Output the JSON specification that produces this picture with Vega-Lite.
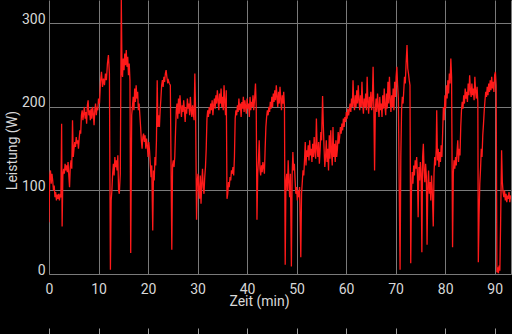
{
"$schema": "https://vega.github.io/schema/vega-lite/v6.json",
"width": 462, "height": 274,
"autosize": {"type": "none"},
"padding": {"left": 49, "top": 0, "right": 1, "bottom": 60},
"background": "#000000",
"config": {"view": {"stroke": null}, "font": "Roboto"},
"data": {"values": [
{"t":0,"w":62},{"t":0.15,"w":118},{"t":0.3,"w":124},{"t":0.45,"w":108},{"t":0.6,"w":120},{"t":0.75,"w":112},{"t":0.9,"w":100},{"t":1.05,"w":106},{"t":1.2,"w":92},{"t":1.35,"w":98},{"t":1.5,"w":88},{"t":1.65,"w":95},{"t":1.8,"w":90},{"t":1.95,"w":96},{"t":2.1,"w":88},{"t":2.25,"w":94},{"t":2.4,"w":92},{"t":2.55,"w":180},{"t":2.65,"w":57},{"t":2.8,"w":118},{"t":2.95,"w":126},{"t":3.1,"w":120},{"t":3.25,"w":132},{"t":3.4,"w":124},{"t":3.55,"w":130},{"t":3.7,"w":122},{"t":3.85,"w":134},{"t":4.0,"w":118},{"t":4.15,"w":104},{"t":4.3,"w":128},{"t":4.45,"w":136},{"t":4.6,"w":126},{"t":4.75,"w":184},{"t":4.9,"w":140},{"t":5.05,"w":150},{"t":5.2,"w":158},{"t":5.35,"w":152},{"t":5.5,"w":164},{"t":5.65,"w":156},{"t":5.8,"w":160},{"t":5.95,"w":150},{"t":6.1,"w":162},{"t":6.25,"w":172},{"t":6.4,"w":168},{"t":6.55,"w":190},{"t":6.7,"w":196},{"t":6.85,"w":184},{"t":7.0,"w":192},{"t":7.15,"w":200},{"t":7.3,"w":186},{"t":7.45,"w":194},{"t":7.6,"w":180},{"t":7.75,"w":202},{"t":7.9,"w":208},{"t":8.05,"w":190},{"t":8.2,"w":196},{"t":8.35,"w":184},{"t":8.5,"w":198},{"t":8.65,"w":186},{"t":8.8,"w":200},{"t":8.95,"w":192},{"t":9.1,"w":178},{"t":9.25,"w":196},{"t":9.4,"w":204},{"t":9.55,"w":190},{"t":9.7,"w":200},{"t":9.85,"w":196},{"t":10.0,"w":210},{"t":10.2,"w":204},{"t":10.4,"w":230},{"t":10.6,"w":242},{"t":10.8,"w":224},{"t":11.0,"w":234},{"t":11.2,"w":226},{"t":11.4,"w":240},{"t":11.6,"w":232},{"t":11.8,"w":252},{"t":12.0,"w":262},{"t":12.2,"w":240},{"t":12.4,"w":5},{"t":12.55,"w":88},{"t":12.7,"w":100},{"t":12.85,"w":120},{"t":13.0,"w":132},{"t":13.15,"w":118},{"t":13.3,"w":140},{"t":13.45,"w":128},{"t":13.6,"w":136},{"t":13.75,"w":124},{"t":13.9,"w":142},{"t":14.05,"w":100},{"t":14.2,"w":96},{"t":14.4,"w":120},{"t":14.6,"w":328},{"t":14.75,"w":240},{"t":14.85,"w":236},{"t":15.0,"w":258},{"t":15.15,"w":244},{"t":15.3,"w":264},{"t":15.45,"w":250},{"t":15.6,"w":268},{"t":15.75,"w":248},{"t":15.9,"w":260},{"t":16.05,"w":238},{"t":16.2,"w":252},{"t":16.35,"w":232},{"t":16.5,"w":25},{"t":16.7,"w":190},{"t":16.85,"w":200},{"t":17.0,"w":212},{"t":17.15,"w":196},{"t":17.3,"w":222},{"t":17.45,"w":206},{"t":17.6,"w":226},{"t":17.75,"w":210},{"t":17.9,"w":218},{"t":18.05,"w":196},{"t":18.2,"w":204},{"t":18.35,"w":190},{"t":18.5,"w":176},{"t":18.65,"w":160},{"t":18.8,"w":150},{"t":18.95,"w":164},{"t":19.1,"w":168},{"t":19.25,"w":158},{"t":19.4,"w":166},{"t":19.55,"w":150},{"t":19.7,"w":162},{"t":19.85,"w":154},{"t":20.0,"w":140},{"t":20.15,"w":158},{"t":20.3,"w":148},{"t":20.45,"w":132},{"t":20.6,"w":116},{"t":20.75,"w":130},{"t":20.95,"w":52},{"t":21.1,"w":124},{"t":21.25,"w":112},{"t":21.4,"w":140},{"t":21.55,"w":130},{"t":21.7,"w":160},{"t":21.85,"w":232},{"t":22.0,"w":176},{"t":22.15,"w":190},{"t":22.3,"w":176},{"t":22.45,"w":196},{"t":22.6,"w":210},{"t":22.75,"w":226},{"t":22.9,"w":232},{"t":23.05,"w":224},{"t":23.2,"w":236},{"t":23.35,"w":230},{"t":23.5,"w":240},{"t":23.65,"w":244},{"t":23.8,"w":236},{"t":23.95,"w":230},{"t":24.1,"w":232},{"t":24.3,"w":228},{"t":24.5,"w":226},{"t":24.8,"w":29},{"t":24.95,"w":130},{"t":25.1,"w":136},{"t":25.25,"w":128},{"t":25.4,"w":140},{"t":25.55,"w":170},{"t":25.7,"w":196},{"t":25.85,"w":204},{"t":26.0,"w":186},{"t":26.15,"w":210},{"t":26.3,"w":192},{"t":26.45,"w":214},{"t":26.6,"w":200},{"t":26.75,"w":188},{"t":26.9,"w":202},{"t":27.05,"w":194},{"t":27.2,"w":208},{"t":27.35,"w":196},{"t":27.5,"w":182},{"t":27.65,"w":200},{"t":27.8,"w":192},{"t":27.95,"w":210},{"t":28.1,"w":198},{"t":28.25,"w":204},{"t":28.4,"w":190},{"t":28.55,"w":212},{"t":28.7,"w":196},{"t":28.85,"w":188},{"t":29.0,"w":202},{"t":29.15,"w":192},{"t":29.3,"w":184},{"t":29.45,"w":240},{"t":29.6,"w":196},{"t":29.8,"w":65},{"t":29.95,"w":112},{"t":30.1,"w":120},{"t":30.25,"w":100},{"t":30.4,"w":90},{"t":30.55,"w":118},{"t":30.7,"w":84},{"t":30.85,"w":108},{"t":31.0,"w":126},{"t":31.15,"w":104},{"t":31.3,"w":96},{"t":31.45,"w":116},{"t":31.6,"w":128},{"t":31.75,"w":150},{"t":31.9,"w":186},{"t":32.05,"w":196},{"t":32.2,"w":188},{"t":32.35,"w":200},{"t":32.5,"w":192},{"t":32.65,"w":204},{"t":32.8,"w":196},{"t":32.95,"w":208},{"t":33.1,"w":190},{"t":33.25,"w":202},{"t":33.4,"w":210},{"t":33.55,"w":198},{"t":33.7,"w":214},{"t":33.85,"w":204},{"t":34.0,"w":220},{"t":34.15,"w":208},{"t":34.3,"w":196},{"t":34.45,"w":216},{"t":34.6,"w":204},{"t":34.75,"w":222},{"t":34.9,"w":200},{"t":35.05,"w":212},{"t":35.2,"w":196},{"t":35.35,"w":226},{"t":35.5,"w":206},{"t":35.65,"w":190},{"t":35.8,"w":220},{"t":35.95,"w":90},{"t":36.1,"w":96},{"t":36.25,"w":110},{"t":36.4,"w":104},{"t":36.55,"w":116},{"t":36.7,"w":112},{"t":36.85,"w":124},{"t":37.0,"w":120},{"t":37.15,"w":128},{"t":37.3,"w":118},{"t":37.45,"w":140},{"t":37.6,"w":186},{"t":37.75,"w":196},{"t":37.9,"w":190},{"t":38.05,"w":202},{"t":38.2,"w":194},{"t":38.35,"w":210},{"t":38.5,"w":196},{"t":38.65,"w":204},{"t":38.8,"w":188},{"t":38.95,"w":206},{"t":39.1,"w":198},{"t":39.25,"w":212},{"t":39.4,"w":194},{"t":39.55,"w":208},{"t":39.7,"w":200},{"t":39.85,"w":192},{"t":40.0,"w":210},{"t":40.15,"w":198},{"t":40.3,"w":204},{"t":40.45,"w":188},{"t":40.6,"w":212},{"t":40.75,"w":196},{"t":40.9,"w":206},{"t":41.05,"w":200},{"t":41.2,"w":214},{"t":41.35,"w":196},{"t":41.5,"w":208},{"t":41.7,"w":228},{"t":41.85,"w":200},{"t":42.0,"w":65},{"t":42.15,"w":120},{"t":42.3,"w":136},{"t":42.45,"w":160},{"t":42.6,"w":126},{"t":42.75,"w":118},{"t":42.9,"w":130},{"t":43.05,"w":122},{"t":43.2,"w":134},{"t":43.35,"w":128},{"t":43.5,"w":120},{"t":43.65,"w":150},{"t":43.8,"w":176},{"t":43.95,"w":188},{"t":44.1,"w":196},{"t":44.25,"w":190},{"t":44.4,"w":200},{"t":44.55,"w":194},{"t":44.7,"w":206},{"t":44.85,"w":198},{"t":45.0,"w":212},{"t":45.15,"w":200},{"t":45.3,"w":216},{"t":45.45,"w":206},{"t":45.6,"w":220},{"t":45.75,"w":208},{"t":45.9,"w":226},{"t":46.05,"w":212},{"t":46.2,"w":200},{"t":46.35,"w":218},{"t":46.5,"w":204},{"t":46.65,"w":224},{"t":46.8,"w":210},{"t":46.95,"w":196},{"t":47.1,"w":214},{"t":47.25,"w":204},{"t":47.4,"w":218},{"t":47.55,"w":200},{"t":47.7,"w":11},{"t":47.85,"w":110},{"t":48.0,"w":120},{"t":48.15,"w":100},{"t":48.3,"w":136},{"t":48.45,"w":110},{"t":48.6,"w":92},{"t":48.75,"w":120},{"t":48.95,"w":9},{"t":49.1,"w":118},{"t":49.25,"w":146},{"t":49.4,"w":124},{"t":49.55,"w":132},{"t":49.7,"w":112},{"t":49.85,"w":96},{"t":50.0,"w":104},{"t":50.15,"w":88},{"t":50.3,"w":100},{"t":50.45,"w":92},{"t":50.6,"w":104},{"t":50.85,"w":20},{"t":51.0,"w":96},{"t":51.15,"w":110},{"t":51.3,"w":124},{"t":51.45,"w":118},{"t":51.6,"w":136},{"t":51.75,"w":158},{"t":51.9,"w":130},{"t":52.05,"w":148},{"t":52.2,"w":140},{"t":52.35,"w":154},{"t":52.5,"w":136},{"t":52.65,"w":160},{"t":52.8,"w":142},{"t":52.95,"w":150},{"t":53.1,"w":134},{"t":53.25,"w":156},{"t":53.4,"w":140},{"t":53.55,"w":164},{"t":53.7,"w":146},{"t":53.85,"w":138},{"t":54.0,"w":186},{"t":54.15,"w":150},{"t":54.3,"w":140},{"t":54.45,"w":158},{"t":54.6,"w":132},{"t":54.75,"w":148},{"t":54.9,"w":170},{"t":55.05,"w":160},{"t":55.25,"w":213},{"t":55.4,"w":178},{"t":55.55,"w":150},{"t":55.7,"w":128},{"t":55.85,"w":140},{"t":56.0,"w":160},{"t":56.15,"w":134},{"t":56.3,"w":150},{"t":56.45,"w":124},{"t":56.6,"w":166},{"t":56.75,"w":138},{"t":56.9,"w":172},{"t":57.05,"w":146},{"t":57.2,"w":130},{"t":57.35,"w":176},{"t":57.5,"w":140},{"t":57.65,"w":156},{"t":57.8,"w":134},{"t":57.95,"w":160},{"t":58.1,"w":140},{"t":58.25,"w":150},{"t":58.4,"w":170},{"t":58.55,"w":156},{"t":58.7,"w":164},{"t":58.85,"w":176},{"t":59.0,"w":168},{"t":59.15,"w":180},{"t":59.3,"w":172},{"t":59.45,"w":186},{"t":59.6,"w":176},{"t":59.75,"w":188},{"t":59.9,"w":182},{"t":60.05,"w":194},{"t":60.2,"w":186},{"t":60.35,"w":198},{"t":60.5,"w":190},{"t":60.65,"w":196},{"t":60.8,"w":204},{"t":60.95,"w":194},{"t":61.1,"w":210},{"t":61.25,"w":200},{"t":61.4,"w":232},{"t":61.55,"w":204},{"t":61.7,"w":196},{"t":61.85,"w":214},{"t":62.0,"w":200},{"t":62.15,"w":220},{"t":62.3,"w":204},{"t":62.45,"w":226},{"t":62.6,"w":208},{"t":62.75,"w":196},{"t":62.9,"w":214},{"t":63.05,"w":200},{"t":63.2,"w":230},{"t":63.35,"w":204},{"t":63.5,"w":192},{"t":63.65,"w":210},{"t":63.8,"w":200},{"t":63.95,"w":216},{"t":64.1,"w":196},{"t":64.25,"w":236},{"t":64.4,"w":206},{"t":64.55,"w":192},{"t":64.7,"w":212},{"t":64.85,"w":200},{"t":65.0,"w":218},{"t":65.15,"w":196},{"t":65.3,"w":208},{"t":65.45,"w":248},{"t":65.6,"w":200},{"t":65.75,"w":124},{"t":65.9,"w":196},{"t":66.05,"w":210},{"t":66.2,"w":194},{"t":66.35,"w":216},{"t":66.5,"w":200},{"t":66.65,"w":188},{"t":66.8,"w":212},{"t":66.95,"w":196},{"t":67.1,"w":204},{"t":67.25,"w":188},{"t":67.4,"w":214},{"t":67.55,"w":198},{"t":67.7,"w":222},{"t":67.85,"w":200},{"t":68.0,"w":190},{"t":68.15,"w":216},{"t":68.3,"w":198},{"t":68.45,"w":230},{"t":68.6,"w":204},{"t":68.75,"w":236},{"t":68.9,"w":210},{"t":69.05,"w":194},{"t":69.2,"w":214},{"t":69.35,"w":200},{"t":69.5,"w":222},{"t":69.65,"w":196},{"t":69.8,"w":230},{"t":69.95,"w":212},{"t":70.1,"w":236},{"t":70.25,"w":248},{"t":70.4,"w":226},{"t":70.55,"w":210},{"t":70.7,"w":120},{"t":70.9,"w":5},{"t":71.05,"w":140},{"t":71.2,"w":196},{"t":71.35,"w":212},{"t":71.5,"w":204},{"t":71.65,"w":220},{"t":71.8,"w":236},{"t":71.95,"w":228},{"t":72.1,"w":250},{"t":72.3,"w":274},{"t":72.45,"w":246},{"t":72.6,"w":240},{"t":72.75,"w":232},{"t":72.9,"w":226},{"t":73.05,"w":13},{"t":73.2,"w":100},{"t":73.35,"w":122},{"t":73.5,"w":108},{"t":73.65,"w":130},{"t":73.8,"w":118},{"t":73.95,"w":136},{"t":74.1,"w":126},{"t":74.25,"w":140},{"t":74.4,"w":120},{"t":74.55,"w":68},{"t":74.7,"w":128},{"t":74.85,"w":112},{"t":75.0,"w":134},{"t":75.15,"w":120},{"t":75.3,"w":26},{"t":75.45,"w":140},{"t":75.6,"w":156},{"t":75.75,"w":124},{"t":75.9,"w":110},{"t":76.05,"w":132},{"t":76.2,"w":118},{"t":76.35,"w":35},{"t":76.5,"w":106},{"t":76.65,"w":124},{"t":76.8,"w":96},{"t":76.95,"w":110},{"t":77.1,"w":88},{"t":77.25,"w":118},{"t":77.4,"w":100},{"t":77.6,"w":57},{"t":77.75,"w":120},{"t":77.9,"w":140},{"t":78.05,"w":130},{"t":78.2,"w":150},{"t":78.3,"w":196},{"t":78.45,"w":136},{"t":78.6,"w":150},{"t":78.75,"w":128},{"t":78.9,"w":146},{"t":79.05,"w":134},{"t":79.2,"w":154},{"t":79.35,"w":140},{"t":79.5,"w":170},{"t":79.65,"w":200},{"t":79.8,"w":184},{"t":79.95,"w":214},{"t":80.1,"w":198},{"t":80.25,"w":226},{"t":80.4,"w":210},{"t":80.55,"w":232},{"t":80.7,"w":216},{"t":80.85,"w":240},{"t":81.0,"w":228},{"t":81.15,"w":258},{"t":81.3,"w":236},{"t":81.5,"w":32},{"t":81.65,"w":120},{"t":81.8,"w":136},{"t":81.95,"w":126},{"t":82.1,"w":140},{"t":82.25,"w":130},{"t":82.4,"w":146},{"t":82.55,"w":160},{"t":82.7,"w":134},{"t":82.85,"w":150},{"t":83.0,"w":142},{"t":83.15,"w":176},{"t":83.3,"w":196},{"t":83.45,"w":206},{"t":83.6,"w":198},{"t":83.75,"w":214},{"t":83.9,"w":204},{"t":84.05,"w":222},{"t":84.2,"w":210},{"t":84.35,"w":218},{"t":84.5,"w":206},{"t":84.65,"w":228},{"t":84.8,"w":214},{"t":84.95,"w":238},{"t":85.1,"w":220},{"t":85.25,"w":212},{"t":85.4,"w":228},{"t":85.55,"w":214},{"t":85.7,"w":222},{"t":85.85,"w":208},{"t":86.0,"w":236},{"t":86.15,"w":218},{"t":86.3,"w":210},{"t":86.45,"w":224},{"t":86.6,"w":206},{"t":86.7,"w":14},{"t":86.85,"w":70},{"t":87.0,"w":108},{"t":87.15,"w":126},{"t":87.3,"w":150},{"t":87.45,"w":140},{"t":87.6,"w":166},{"t":87.75,"w":180},{"t":87.9,"w":196},{"t":88.05,"w":208},{"t":88.2,"w":218},{"t":88.35,"w":212},{"t":88.5,"w":224},{"t":88.65,"w":214},{"t":88.8,"w":228},{"t":88.95,"w":218},{"t":89.1,"w":232},{"t":89.25,"w":220},{"t":89.4,"w":236},{"t":89.55,"w":222},{"t":89.7,"w":230},{"t":89.85,"w":218},{"t":90.0,"w":238},{"t":90.15,"w":242},{"t":90.3,"w":226},{"t":90.45,"w":2},{"t":90.6,"w":8},{"t":90.75,"w":1},{"t":90.9,"w":10},{"t":91.05,"w":4},{"t":91.2,"w":60},{"t":91.4,"w":148},{"t":91.55,"w":110},{"t":91.7,"w":98},{"t":91.85,"w":92},{"t":92.0,"w":100},{"t":92.15,"w":88},{"t":92.3,"w":96},{"t":92.45,"w":86},{"t":92.6,"w":94},{"t":92.75,"w":90},{"t":92.9,"w":98},{"t":93.05,"w":86},{"t":93.2,"w":94},{"t":93.35,"w":90}
]},
"layer": [
{
"mark": {"type": "line", "color": "#ff1a1a", "strokeWidth": 1.3, "clip": true},
"encoding": {
"x": {"field": "t", "type": "quantitative",
 "scale": {"domain": [0, 93.3], "nice": false, "zero": false},
 "axis": {"title": "Zeit (min)", "values": [0,10,20,30,40,50,60,70,80,90],
  "grid": true, "gridColor": "#7a7a7a", "gridWidth": 1,
  "domain": true, "domainColor": "#7a7a7a", "ticks": false,
  "labelFlush": false, "labelOverlap": false,
  "labelPadding": 8, "labelBaseline": "top", "labelFontSize": 14, "labelColor": "#d8d8d8", "labelFont": "Roboto",
  "titleFontSize": 14, "titleFontWeight": "normal", "titleColor": "#d8d8d8", "titleFont": "Roboto",
  "titleX": 210, "titleY": 20, "titleBaseline": "top", "titleAlign": "center"}},
"y": {"field": "w", "type": "quantitative",
 "scale": {"domain": [0, 328], "nice": false},
 "axis": {"title": "Leistung (W)", "values": [0,100,200,300],
  "grid": true, "gridColor": "#7a7a7a", "gridWidth": 1,
  "domain": false, "ticks": false, "labelFlush": false,
  "labelPadding": 4, "labelBaseline": "alphabetic", "labelFontSize": 14, "labelColor": "#d8d8d8", "labelFont": "Roboto",
  "titleFontSize": 14, "titleFontWeight": "normal", "titleColor": "#d8d8d8", "titleFont": "Roboto",
  "titleX": -37, "titleY": 150, "titleBaseline": "middle", "titleAlign": "center", "titleAngle": -90}}
}
},
{
"mark": {"type": "line", "opacity": 0},
"encoding": {
"x": {"field": "t", "type": "quantitative",
 "scale": {"domain": [0, 93.3], "nice": false, "zero": false},
 "axis": {"orient": "bottom", "offset": 54, "values": [0,10,20,30,40,50,60,70,80,90], "labels": false, "domain": false, "ticks": true, "tickSize": 6, "tickColor": "#9a9a9a", "grid": false, "title": null}},
"y": {"field": "w", "type": "quantitative",
 "scale": {"domain": [0, 328], "nice": false},
 "axis": {"orient": "right", "labels": false, "ticks": false, "grid": false, "domain": true, "domainColor": "#7a7a7a", "title": null}}
}
}
],
"resolve": {"axis": {"x": "independent", "y": "independent"}}
}
